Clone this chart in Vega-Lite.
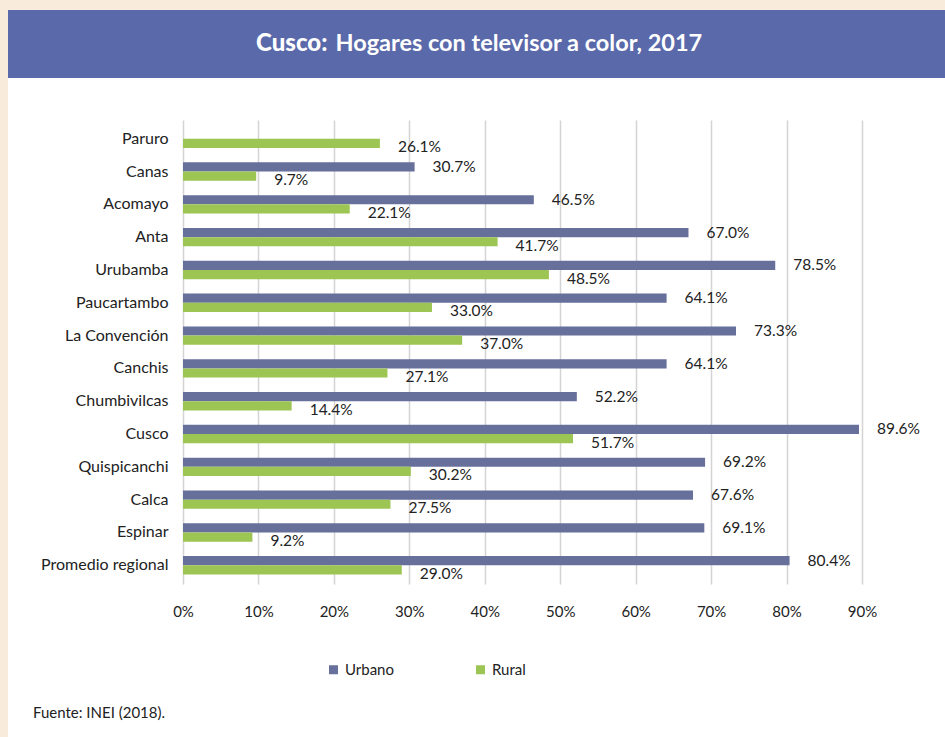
{
  "$schema": "https://vega.github.io/schema/vega-lite/v6.json",
  "background": "#f9ebdc",
  "padding": {"left": 8, "top": 10, "right": 0, "bottom": 0},
  "autosize": {"type": "pad"},
  "spacing": 0,
  "config": {"font": "Lato", "view": {"stroke": null}, "concat": {"spacing": 0}},
  "datasets": {
    "d": [
      {"prov": "Paruro", "serie": "Rural", "v": 0.261},
      {"prov": "Canas", "serie": "Urbano", "v": 0.307},
      {"prov": "Canas", "serie": "Rural", "v": 0.097},
      {"prov": "Acomayo", "serie": "Urbano", "v": 0.465},
      {"prov": "Acomayo", "serie": "Rural", "v": 0.221},
      {"prov": "Anta", "serie": "Urbano", "v": 0.670},
      {"prov": "Anta", "serie": "Rural", "v": 0.417},
      {"prov": "Urubamba", "serie": "Urbano", "v": 0.785},
      {"prov": "Urubamba", "serie": "Rural", "v": 0.485},
      {"prov": "Paucartambo", "serie": "Urbano", "v": 0.641},
      {"prov": "Paucartambo", "serie": "Rural", "v": 0.330},
      {"prov": "La Convención", "serie": "Urbano", "v": 0.733},
      {"prov": "La Convención", "serie": "Rural", "v": 0.370},
      {"prov": "Canchis", "serie": "Urbano", "v": 0.641},
      {"prov": "Canchis", "serie": "Rural", "v": 0.271},
      {"prov": "Chumbivilcas", "serie": "Urbano", "v": 0.522},
      {"prov": "Chumbivilcas", "serie": "Rural", "v": 0.144},
      {"prov": "Cusco", "serie": "Urbano", "v": 0.896},
      {"prov": "Cusco", "serie": "Rural", "v": 0.517},
      {"prov": "Quispicanchi", "serie": "Urbano", "v": 0.692},
      {"prov": "Quispicanchi", "serie": "Rural", "v": 0.302},
      {"prov": "Calca", "serie": "Urbano", "v": 0.676},
      {"prov": "Calca", "serie": "Rural", "v": 0.275},
      {"prov": "Espinar", "serie": "Urbano", "v": 0.691},
      {"prov": "Espinar", "serie": "Rural", "v": 0.092},
      {"prov": "Promedio regional", "serie": "Urbano", "v": 0.804},
      {"prov": "Promedio regional", "serie": "Rural", "v": 0.290}
    ]
  },
  "vconcat": [
    {
      "width": 937,
      "height": 68,
      "view": {"fill": "#5a69aa", "stroke": null},
      "data": {"values": [{"a": "Cusco:", "b": "Hogares con televisor a color, 2017"}]},
      "layer": [
        {
          "mark": {"type": "text", "align": "right", "baseline": "middle", "dx": -149, "fontSize": 24, "fontWeight": 900, "color": "white", "font": "Lato"},
          "encoding": {"text": {"field": "a"}}
        },
        {
          "mark": {"type": "text", "align": "left", "baseline": "middle", "dx": -141, "fontSize": 23.5, "fontWeight": 700, "color": "white", "font": "Lato"},
          "encoding": {"text": {"field": "b"}}
        }
      ]
    },
    {
      "width": 937,
      "height": 659,
      "view": {"fill": "white", "stroke": null},
      "data": {"name": "d"},
      "title": {"text": "Fuente: INEI (2018).", "orient": "bottom", "anchor": "start", "frame": "group", "offset": -31, "dx": 25, "fontSize": 15, "fontWeight": "normal", "color": "#222222", "font": "Lato"},
      "resolve": {"axis": {"x": "independent"}},
      "layer": [
        {
          "mark": {"type": "bar"},
          "encoding": {
            "x": {
              "field": "v", "type": "quantitative",
              "scale": {"domain": [0, 0.9], "range": [175, 854], "nice": false},
              "axis": {"orient": "top", "grid": true, "labels": false, "ticks": false, "domain": false, "title": null, "values": [0, 0.1, 0.2, 0.3, 0.4, 0.5, 0.6, 0.7, 0.8, 0.9], "gridColor": "#d4d4d4", "gridWidth": 1.5}
            },
            "y": {
              "field": "prov", "type": "nominal",
              "sort": ["Paruro", "Canas", "Acomayo", "Anta", "Urubamba", "Paucartambo", "La Convención", "Canchis", "Chumbivilcas", "Cusco", "Quispicanchi", "Calca", "Espinar", "Promedio regional"],
              "scale": {"range": [42, 506], "paddingInner": 0.44, "paddingOuter": 0.29},
              "axis": {"orient": "left", "offset": -175, "title": null, "ticks": false, "domain": false, "grid": false, "labelFont": "Lato", "labelFontSize": 16, "labelColor": "#222222", "labelPadding": 15}
            },
            "yOffset": {"field": "serie", "type": "nominal", "sort": ["Urbano", "Rural"], "scale": {"domain": ["Urbano", "Rural"], "paddingInner": 0, "paddingOuter": 0}},
            "color": {
              "field": "serie", "type": "nominal",
              "scale": {"domain": ["Urbano", "Rural"], "range": ["#676f9b", "#9dc553"]},
              "legend": {
                "orient": "none", "legendX": 318, "legendY": 652, "direction": "horizontal", "title": null,
                "symbolType": "square", "symbolSize": 81, "symbolStrokeWidth": 0,
                "labelFont": "Lato", "labelFontSize": 15, "labelColor": "#222222", "labelOffset": 4,
                "columnPadding": 79, "padding": 0,
                "encode": {"symbols": {"update": {"fill": {"signal": "datum.value === 'Urbano' ? '#5a66ad' : '#7ab62e'"}, "stroke": {"value": "transparent"}}}}
              }
            }
          }
        },
        {
          "transform": [{"filter": "datum.serie === 'Urbano'"}],
          "mark": {"type": "text", "align": "left", "baseline": "middle", "dx": 18, "dy": 0, "fontSize": 15.5, "font": "Lato", "color": "#222222"},
          "encoding": {
            "x": {
              "field": "v", "type": "quantitative",
              "axis": {"orient": "bottom", "offset": -153, "grid": false, "ticks": false, "domain": false, "title": null, "format": ".0%", "values": [0, 0.1, 0.2, 0.3, 0.4, 0.5, 0.6, 0.7, 0.8, 0.9], "labelFlush": false, "labelFont": "Lato", "labelFontSize": 15, "labelColor": "#222222", "labelPadding": 20}
            },
            "y": {"field": "prov", "type": "nominal", "sort": ["Paruro", "Canas", "Acomayo", "Anta", "Urubamba", "Paucartambo", "La Convención", "Canchis", "Chumbivilcas", "Cusco", "Quispicanchi", "Calca", "Espinar", "Promedio regional"]},
            "yOffset": {"field": "serie", "type": "nominal", "sort": ["Urbano", "Rural"]},
            "text": {"field": "v", "type": "quantitative", "format": ".1%"}
          }
        },
        {
          "transform": [{"filter": "datum.serie === 'Rural'"}],
          "mark": {"type": "text", "align": "left", "baseline": "middle", "dx": 18, "dy": 4, "fontSize": 15.5, "font": "Lato", "color": "#222222"},
          "encoding": {
            "x": {"field": "v", "type": "quantitative", "axis": null},
            "y": {"field": "prov", "type": "nominal", "sort": ["Paruro", "Canas", "Acomayo", "Anta", "Urubamba", "Paucartambo", "La Convención", "Canchis", "Chumbivilcas", "Cusco", "Quispicanchi", "Calca", "Espinar", "Promedio regional"]},
            "yOffset": {"field": "serie", "type": "nominal", "sort": ["Urbano", "Rural"]},
            "text": {"field": "v", "type": "quantitative", "format": ".1%"}
          }
        }
      ]
    }
  ]
}
